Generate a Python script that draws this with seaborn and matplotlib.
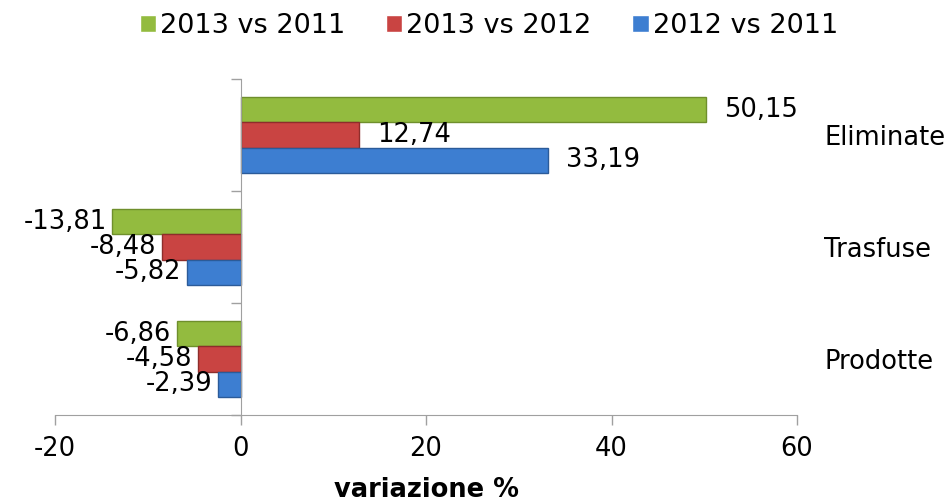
import pandas as pd
import seaborn as sns
import matplotlib.pyplot as plt
from matplotlib.ticker import FixedLocator

# dati
categorie = ['Eliminate', 'Trasfuse', 'Prodotte']
serie = ['2013 vs 2011', '2013 vs 2012', '2012 vs 2011']
v_2013_2011 = [50.15, -13.81, -6.86]
v_2013_2012 = [12.74, -8.48, -4.58]
v_2012_2011 = [33.19, -5.82, -2.39]
colori = ['#93bb3f', '#c94442', '#3d7ed1']
bordi = ['#6f8f2c', '#8e2d2b', '#2b5b99']

df = pd.DataFrame({
    'categoria': categorie * 3,
    'serie': [s for s in serie for _ in categorie],
    'valore': v_2013_2011 + v_2013_2012 + v_2012_2011,
})

sns.set_style('white')
plt.rcParams['font.family'] = ['DejaVu Sans']
plt.rcParams['axes.unicode_minus'] = False
plt.rcParams['text.color'] = 'black'
plt.rcParams['xtick.labelcolor'] = 'black'
plt.rcParams['ytick.labelcolor'] = 'black'
fs = 18.5

fig = plt.figure(figsize=(9.53, 5.04), dpi=100)
ax = fig.add_axes([55 / 953, 1 - 415 / 504, (797 - 55) / 953, (415 - 79) / 504])

sns.barplot(data=df, y='categoria', x='valore', hue='serie', order=categorie,
            hue_order=serie, palette=colori, orient='h', width=0.68,
            saturation=1, ax=ax)

for cont, bc in zip(ax.containers, bordi):
    for bar in cont:
        bar.set_edgecolor(bc)
        bar.set_linewidth(1)
        w = bar.get_width()
        y = bar.get_y() + bar.get_height() / 2
        testo = f'{w:.2f}'.replace('.', ',')
        if w >= 0:
            ax.annotate(testo, (w, y), xytext=(13, 0), textcoords='offset points',
                        ha='left', va='center', fontsize=fs, color='black')
        else:
            ax.annotate(testo, (w, y), xytext=(-4, 0), textcoords='offset points',
                        ha='right', va='center', fontsize=fs, color='black')

ax.set_xlim(-20, 60)
ax.set_ylim(2.5, -0.5)
ax.set_xticks([-20, 0, 20, 40, 60])
ax.tick_params(axis='x', direction='out', length=7, width=1, color='#a0a0a0',
               labelsize=fs, pad=8, bottom=True)

# etichette delle categorie a destra, tacche ai confini
ax.set_yticks(range(len(categorie)))
ax.set_yticklabels(categorie)
ax.tick_params(axis='y', which='major', left=False, right=False,
               labelleft=False, labelright=True, labelsize=fs, pad=16)
ax.yaxis.set_minor_locator(FixedLocator([-0.5, 0.5, 1.5, 2.5]))
ax.tick_params(axis='y', which='minor', left=True, direction='out', length=7,
               width=1, color='#a0a0a0')

for s in ['top', 'right']:
    ax.spines[s].set_visible(False)
ax.spines['left'].set_position(('data', 0))
ax.spines['left'].set_color('#a0a0a0')
ax.spines['bottom'].set_color('#a0a0a0')

ax.set_ylabel('')
ax.set_xlabel('variazione %', fontsize=fs, fontweight='bold', labelpad=11,
              color='black')

handles, labels = ax.get_legend_handles_labels()
ax.get_legend().remove()
fig.legend(handles, labels, loc='center', bbox_to_anchor=(0.513, 0.948), ncol=3,
           frameon=False, fontsize=19.5, handlelength=0.6, handleheight=0.6,
           handletextpad=0.15, columnspacing=1.5)

fig.savefig('out.png', dpi=100)
